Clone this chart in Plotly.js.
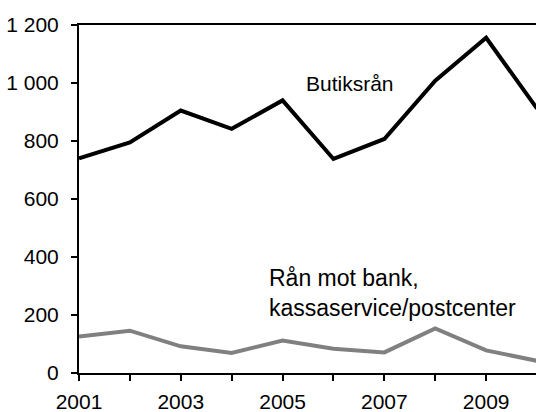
<!DOCTYPE html>
<html>
<head>
<meta charset="utf-8">
<script src="https://cdn.plot.ly/plotly-3.0.1.min.js"></script>
<style>
html,body{margin:0;padding:0;background:#fff;}
#chart{width:536px;height:412px;}
</style>
</head>
<body>
<div id="chart"></div>
<script>
const years = [2001, 2002, 2003, 2004, 2005, 2006, 2007, 2008, 2009, 2010];
const butiksran = [740, 795, 905, 842, 940, 738, 807, 1008, 1156, 912];
const bankran = [126, 146, 92, 69, 112, 84, 71, 154, 78, 42];
const yTickVals = [0, 200, 400, 600, 800, 1000, 1200];
const yTickText = ["0", "200", "400", "600", "800", "1 000", "1 200"];
const xTickText = ["2001", "", "2003", "", "2005", "", "2007", "", "2009", ""];
const label1 = "Butiksrån";
const label2 = "Rån mot bank,<br>kassaservice/postcenter";

const fam = "Liberation Sans, Arial, sans-serif";
const tickFont = {family: fam, size: 21, color: "#000"};

const data = [
  {x: years, y: butiksran, type: "scatter", mode: "lines",
   line: {color: "#000000", width: 4}, hoverinfo: "skip"},
  {x: years, y: bankran, type: "scatter", mode: "lines",
   line: {color: "#808080", width: 4}, hoverinfo: "skip"}
];

const layout = {
  width: 536, height: 412,
  margin: {l: 79, r: 0, t: 25, b: 39},
  paper_bgcolor: "#fff", plot_bgcolor: "#fff",
  showlegend: false,
  font: tickFont,
  xaxis: {
    range: [2001, 2009.98], showgrid: false, zeroline: false,
    showline: true, linecolor: "#000", linewidth: 2, mirror: true,
    ticks: "outside", ticklen: 6, tickwidth: 2, tickcolor: "#000",
    tickvals: years, ticktext: xTickText, tickfont: tickFont,
    ticklabelstandoff: 3
  },
  yaxis: {
    range: [0, 1200], showgrid: false, zeroline: false,
    showline: true, linecolor: "#000", linewidth: 2,
    ticks: "outside", ticklen: 6, tickwidth: 2, tickcolor: "#000",
    tickvals: yTickVals, ticktext: yTickText, tickfont: tickFont,
    ticklabelstandoff: 8
  },
  annotations: [
    {x: 2005.42, y: 1000, xref: "x", yref: "y", text: label1, showarrow: false,
     xanchor: "left", yanchor: "middle", font: {family: fam, size: 21, color: "#000"}},
    {x: 2004.69, y: 277, xref: "x", yref: "y", text: label2, showarrow: false,
     xanchor: "left", yanchor: "middle", align: "left",
     font: {family: fam, size: 23, color: "#000"}}
  ]
};

Plotly.newPlot("chart", data, layout, {staticPlot: true, displayModeBar: false});
</script>
</body>
</html>
